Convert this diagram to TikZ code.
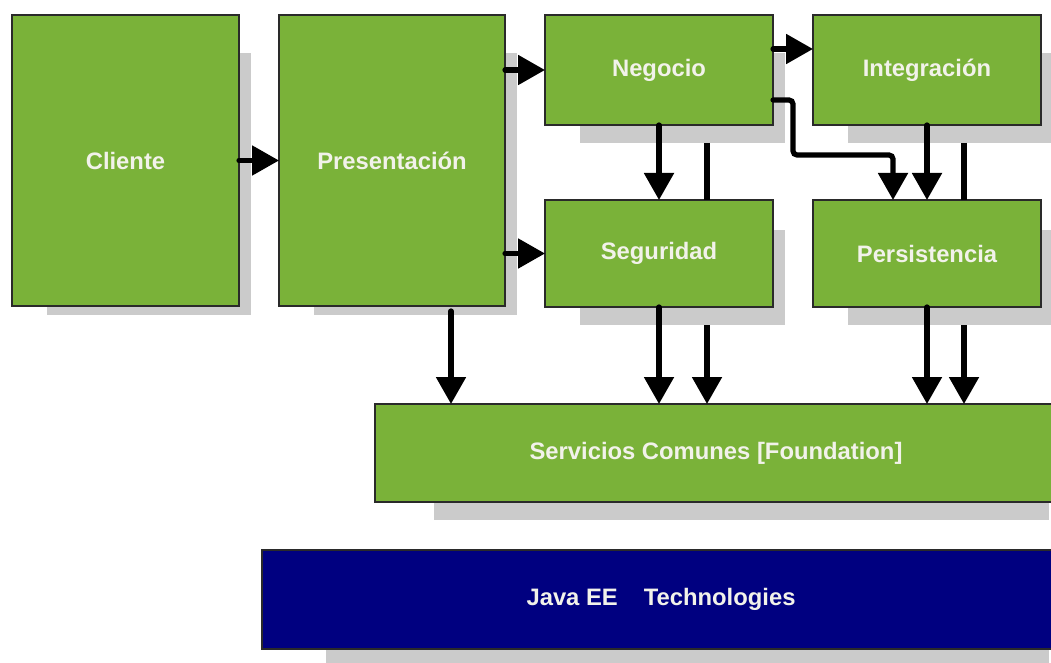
\documentclass[tikz,border=0pt]{standalone}
\usepackage{fontspec}
\setmainfont{Liberation Sans}
\usetikzlibrary{arrows.meta}
\definecolor{boxgreen}{HTML}{7AB239}
\definecolor{boxnavy}{HTML}{000080}
\definecolor{shadowgray}{HTML}{CBCBCB}
\definecolor{edgegray}{HTML}{2A2A2A}
\definecolor{txt}{HTML}{F2F2EA}
\tikzset{
  box/.style={draw=edgegray, line width=1.2pt, fill=boxgreen, anchor=north west,
    inner sep=0pt, outer sep=0pt, text=txt,
    font=\fontsize{23.8}{28}\selectfont\bfseries},
  navybox/.style={box, fill=boxnavy},
  shade/.style={fill=shadowgray, draw=none},
  conn/.style={line width=5.2pt, line cap=round, -{Triangle[length=27pt,width=29pt]}},
  bar/.style={line width=5.2pt},
}
\begin{document}
\begin{tikzpicture}[x=1pt,y=-1pt]
\useasboundingbox (0,0) rectangle (1051,663);
% shadows
\fill[shade] (47,53) rectangle (251,315);
\fill[shade] (314,53) rectangle (517,315);
\fill[shade] (580,53) rectangle (785,143);
\fill[shade] (848,53) rectangle (1070,143);
\fill[shade] (580,230) rectangle (785,325);
\fill[shade] (848,230) rectangle (1070,325);
\fill[shade] (434,440) rectangle (1049,520);
\fill[shade] (326,580) rectangle (1049,675);
% boxes
\node[box, minimum width=227pt, minimum height=291pt] (cli) at (12,15) {Cliente};
\node[box, minimum width=226pt, minimum height=291pt] (pre) at (279,15) {Presentación};
\node[box, minimum width=228pt, minimum height=110pt] (neg) at (545,15) {Negocio};
\node[box, minimum width=228pt, minimum height=110pt] (int) at (813,15) {Integración};
\node[box, minimum width=228pt, minimum height=107pt] (seg) at (545,200) {Seguridad};
\node[box, minimum width=228pt, minimum height=107pt] (per) at (813,200) {Persistencia};
\node[box, minimum width=682pt, minimum height=98pt] (srv) at (375,404) {Servicios Comunes [Foundation]};
\node[navybox, minimum width=798pt, minimum height=99pt] (jee) at (262,550) {Java EE\hspace{26pt}Technologies};
% connectors
\draw[conn] (cli.east) -- (pre.east -| pre.west);
\draw[conn] (pre.east |- neg.west) -- (neg.west);
\draw[conn] (pre.east |- seg.west) -- (seg.west);
\draw[conn] ([yshift=21pt]neg.east) -- ([yshift=21pt]neg.east -| int.west);
\draw[conn] (neg.south) -- (seg.north);
\draw[conn] (int.south) -- (int.south |- per.north);
\draw[conn, rounded corners=4pt] ([yshift=-30pt]neg.east) -- (793,100) -- (793,155) -- (893,155) -- (893,0 |- per.north);
\coordinate (n2) at (707,143);
\draw[bar] (n2) -- (n2 |- seg.north);
\coordinate (i2) at (964,143);
\draw[bar] (i2) -- (i2 |- per.north);
\coordinate (p2) at (451,311);
\draw[conn] (p2) -- (p2 |- srv.north);
\draw[conn] (seg.south) -- (seg.south |- srv.north);
\coordinate (s2) at (707,325);
\draw[conn, line cap=butt] (s2) -- (s2 |- srv.north);
\draw[conn] (per.south) -- (per.south |- srv.north);
\coordinate (r2) at (964,325);
\draw[conn, line cap=butt] (r2) -- (r2 |- srv.north);
\end{tikzpicture}
\end{document}
